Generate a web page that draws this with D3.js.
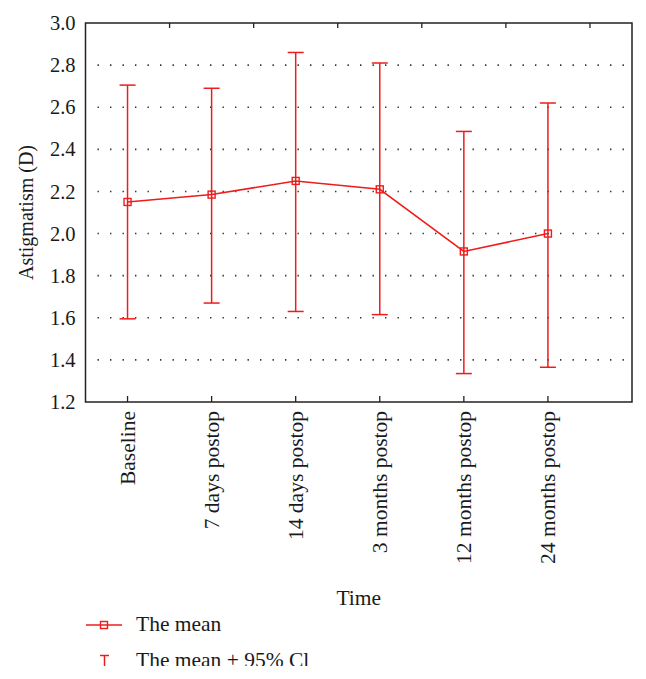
<!DOCTYPE html>
<html>
<head>
<meta charset="utf-8">
<script src="https://cdn.jsdelivr.net/npm/d3@7"></script>
<style>
  html, body { margin: 0; padding: 0; background: #fff; }
  svg text { font-family: "Liberation Serif", "Times New Roman", serif; fill: #1a1a1a; }
</style>
</head>
<body>
<svg id="chart" width="646" height="679"></svg>
<script>
const categories = ["Baseline", "7 days postop", "14 days postop", "3 months postop", "12 months postop", "24 months postop"];
const means = [2.15, 2.185, 2.25, 2.21, 1.915, 2.0];
const upper = [2.705, 2.69, 2.86, 2.81, 2.485, 2.62];
const lower = [1.595, 1.67, 1.63, 1.615, 1.335, 1.365];
const yTicks = [1.2, 1.4, 1.6, 1.8, 2.0, 2.2, 2.4, 2.6, 2.8, 3.0];
const gridValues = [1.4, 1.6, 1.8, 2.0, 2.2, 2.4, 2.6, 2.8];
const yTitle = "Astigmatism (D)";
const xTitle = "Time";
const legendLabels = ["The mean", "The mean + 95% Cl"];

const red = "#ee1c1c";
const svg = d3.select("#chart");
const L = 85.5, R = 632, T = 23, B = 402;

const x = d3.scaleLinear().domain([0.5, 7]).range([L, R]);
const y = d3.scaleLinear().domain([1.2, 3.0]).range([B, T]);

const data = categories.map((c, i) => ({c, i: i + 1, m: means[i], u: upper[i], l: lower[i]}));

// dotted gridlines
svg.append("g").selectAll("line").data(gridValues).join("line")
  .attr("x1", L + 12).attr("x2", R - 4)
  .attr("y1", d => y(d)).attr("y2", d => y(d))
  .attr("stroke", "#333").attr("stroke-width", 1.6)
  .attr("stroke-dasharray", "1.4,11.1");

// y axis labels
const yAxis = svg.append("g").attr("transform", `translate(${L},0)`)
  .call(d3.axisLeft(y).tickValues(yTicks).tickFormat(d3.format(".1f")).tickSize(0).tickPadding(10));
yAxis.select(".domain").remove();
yAxis.selectAll("text").attr("font-size", 20.5).attr("font-family", "Liberation Serif").attr("fill", "#1a1a1a");

// bottom ticks (inward)
svg.append("g").selectAll("line").data(data).join("line")
  .attr("x1", d => x(d.i)).attr("x2", d => x(d.i))
  .attr("y1", B).attr("y2", B - 6)
  .attr("stroke", "#222").attr("stroke-width", 1.3);
// top ticks (inward, between categories)
svg.append("g").selectAll("line").data(data).join("line")
  .attr("x1", d => x(d.i + 0.5)).attr("x2", d => x(d.i + 0.5))
  .attr("y1", T).attr("y2", T + 5)
  .attr("stroke", "#222").attr("stroke-width", 1.3);

// x labels rotated
svg.append("g").selectAll("text").data(data).join("text")
  .attr("transform", d => `translate(${x(d.i)},${B + 9}) rotate(-90)`)
  .attr("text-anchor", "end").attr("dy", "0.33em")
  .attr("font-size", 21.5)
  .text(d => d.c);

// error bars
const eb = svg.append("g").attr("stroke", red).attr("stroke-width", 1.5).attr("fill", "none");
eb.selectAll("line.v").data(data).join("line").attr("class", "v")
  .attr("x1", d => x(d.i)).attr("x2", d => x(d.i))
  .attr("y1", d => y(d.u)).attr("y2", d => y(d.l));
eb.selectAll("line.cu").data(data).join("line").attr("class", "cu")
  .attr("x1", d => x(d.i) - 8).attr("x2", d => x(d.i) + 8)
  .attr("y1", d => y(d.u)).attr("y2", d => y(d.u));
eb.selectAll("line.cl").data(data).join("line").attr("class", "cl")
  .attr("x1", d => x(d.i) - 8).attr("x2", d => x(d.i) + 8)
  .attr("y1", d => y(d.l)).attr("y2", d => y(d.l));

// mean line
svg.append("path").datum(data)
  .attr("d", d3.line().x(d => x(d.i)).y(d => y(d.m)))
  .attr("stroke", red).attr("stroke-width", 1.5).attr("fill", "none");
// markers
svg.append("g").selectAll("rect").data(data).join("rect")
  .attr("x", d => x(d.i) - 3.5).attr("y", d => y(d.m) - 3.5)
  .attr("width", 7).attr("height", 7)
  .attr("fill", "none").attr("stroke", red).attr("stroke-width", 1.4);

// frame
svg.append("rect").attr("x", L).attr("y", T).attr("width", R - L).attr("height", B - T)
  .attr("fill", "none").attr("stroke", "#222").attr("stroke-width", 1.5);

// axis titles
svg.append("text").attr("x", (L + R) / 2).attr("y", 605).attr("text-anchor", "middle")
  .attr("font-size", 21.5).text(xTitle);
svg.append("text").attr("transform", `translate(33,${(T + B) / 2}) rotate(-90)`)
  .attr("text-anchor", "middle").attr("font-size", 20).text(yTitle);

// legend (bottom row is cut off in the reference)
svg.append("defs").append("clipPath").attr("id", "lgclip")
  .append("rect").attr("x", 0).attr("y", 600).attr("width", 646).attr("height", 66);
const lg = svg.append("g").attr("clip-path", "url(#lgclip)");
lg.append("line").attr("x1", 86).attr("x2", 122).attr("y1", 625).attr("y2", 625)
  .attr("stroke", red).attr("stroke-width", 1.5);
lg.append("rect").attr("x", 100.5).attr("y", 621.5).attr("width", 7).attr("height", 7)
  .attr("fill", "none").attr("stroke", red).attr("stroke-width", 1.4);
lg.append("text").attr("x", 136).attr("y", 631).attr("font-size", 21.5).text(legendLabels[0]);
lg.append("line").attr("x1", 104.5).attr("x2", 104.5).attr("y1", 655.5).attr("y2", 672)
  .attr("stroke", red).attr("stroke-width", 1.5);
lg.append("line").attr("x1", 100).attr("x2", 109).attr("y1", 655.5).attr("y2", 655.5)
  .attr("stroke", red).attr("stroke-width", 1.5);
lg.append("text").attr("x", 136).attr("y", 667).attr("font-size", 21.5).text(legendLabels[1]);
</script>
</body>
</html>
